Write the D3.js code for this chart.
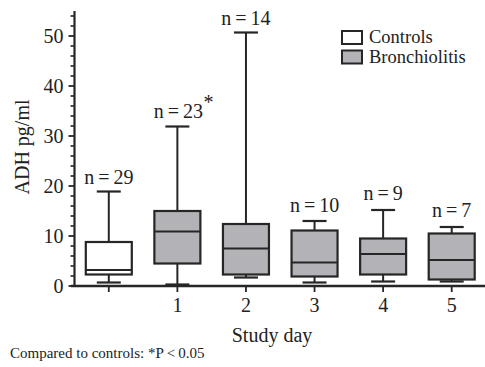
<!DOCTYPE html>
<html>
<head>
<meta charset="utf-8">
<script src="https://cdn.jsdelivr.net/npm/d3@7"></script>
<style>
  html, body { margin: 0; padding: 0; background: #fff; }
</style>
</head>
<body>
<svg id="chart" width="485" height="367"></svg>
<script>
// Study groups along the x axis (controls have no day label)
const categories = ["Controls", "1", "2", "3", "4", "5"];
const tickLabels = ["", "1", "2", "3", "4", "5"];
const groups = ["Controls", "Bronchiolitis", "Bronchiolitis", "Bronchiolitis", "Bronchiolitis", "Bronchiolitis"];
// Box-plot summaries, ADH in pg/ml
const whiskerLow  = [0.7, 0.3, 1.7, 0.7, 0.9, 0.9];
const q1          = [2.3, 4.5, 2.3, 1.9, 2.3, 1.3];
const median      = [3.2, 10.9, 7.5, 4.7, 6.4, 5.2];
const q3          = [8.8, 15.0, 12.4, 11.1, 9.5, 10.5];
const whiskerHigh = [18.9, 31.9, 50.7, 13.0, 15.2, 11.8];
const sampleSizes = [29, 23, 14, 10, 9, 7];
const significant = [false, true, false, false, false, false];
const yMajorTicks = [0, 10, 20, 30, 40, 50];
const legendItems = ["Controls", "Bronchiolitis"];

const ink = "#262626";
const textInk = "#222";
const serif = "'Liberation Serif', 'Times New Roman', Times, serif";
const fills = { "Controls": "#ffffff", "Bronchiolitis": "#b3b3b7" };

const svg = d3.select("#chart");

const x = d3.scaleBand().domain(categories).range([74.5, 486]).paddingInner(0).paddingOuter(0);
const y = d3.scaleLinear().domain([0, 55]).range([286, 11]);
const boxW = 46, capW = 24;

function label(sel, size) {
  return sel.attr("font-family", serif).attr("font-size", size).attr("fill", textInk);
}

// Y axis: major ticks every 10, minor every 2
const yMinor = d3.range(0, 55, 2).filter(v => v % 10 !== 0);
const yAxisG = svg.append("g").attr("transform", "translate(74.5,0)");
yAxisG.append("line").attr("x1", 0).attr("x2", 0).attr("y1", y(0)).attr("y2", y(55))
  .attr("stroke", ink).attr("stroke-width", 2.2);
yAxisG.selectAll("line.minor").data(yMinor).join("line").attr("class", "minor")
  .attr("x1", -4).attr("x2", 0).attr("y1", d => y(d)).attr("y2", d => y(d))
  .attr("stroke", ink).attr("stroke-width", 1.6);
yAxisG.selectAll("line.major").data(yMajorTicks).join("line").attr("class", "major")
  .attr("x1", -6).attr("x2", 0).attr("y1", d => y(d)).attr("y2", d => y(d))
  .attr("stroke", ink).attr("stroke-width", 1.8);
label(yAxisG.selectAll("text").data(yMajorTicks).join("text"), 20)
  .attr("x", -11).attr("y", d => y(d)).attr("dy", "0.33em")
  .attr("text-anchor", "end").text(d => d);

// X axis
const xAxis = d3.axisBottom(x).tickSize(6).tickSizeOuter(0).tickFormat((d, i) => tickLabels[i]);
const xAxisG = svg.append("g").attr("transform", `translate(0,${y(0)})`).call(xAxis)
  .attr("font-family", serif).attr("font-size", 20);
xAxisG.select(".domain").remove();
xAxisG.append("line").attr("x1", 71).attr("x2", 485).attr("y1", 0).attr("y2", 0)
  .attr("stroke", ink).attr("stroke-width", 2.4);
xAxisG.selectAll(".tick line").attr("stroke", ink).attr("stroke-width", 1.8);
label(xAxisG.selectAll(".tick text"), 20).attr("y", 25.7).attr("dy", 0);

// Boxes
const boxes = svg.append("g").selectAll("g").data(categories).join("g")
  .attr("transform", d => `translate(${x(d) + x.bandwidth() / 2},0)`);

boxes.append("line")
  .attr("x1", 0).attr("x2", 0)
  .attr("y1", (d, i) => y(whiskerHigh[i])).attr("y2", (d, i) => y(q3[i]))
  .attr("stroke", ink).attr("stroke-width", 2);
boxes.append("line")
  .attr("x1", 0).attr("x2", 0)
  .attr("y1", (d, i) => y(whiskerLow[i])).attr("y2", (d, i) => y(q1[i]))
  .attr("stroke", ink).attr("stroke-width", 2);
boxes.append("line")
  .attr("x1", -capW / 2).attr("x2", capW / 2)
  .attr("y1", (d, i) => y(whiskerHigh[i])).attr("y2", (d, i) => y(whiskerHigh[i]))
  .attr("stroke", ink).attr("stroke-width", 2.2);
boxes.append("line")
  .attr("x1", -capW / 2).attr("x2", capW / 2)
  .attr("y1", (d, i) => y(whiskerLow[i])).attr("y2", (d, i) => y(whiskerLow[i]))
  .attr("stroke", ink).attr("stroke-width", 2.2);
boxes.append("rect")
  .attr("x", -boxW / 2).attr("width", boxW)
  .attr("y", (d, i) => y(q3[i])).attr("height", (d, i) => y(q1[i]) - y(q3[i]))
  .attr("fill", (d, i) => fills[groups[i]])
  .attr("stroke", ink).attr("stroke-width", 2.2);
boxes.append("line")
  .attr("x1", -boxW / 2).attr("x2", boxW / 2)
  .attr("y1", (d, i) => y(median[i])).attr("y2", (d, i) => y(median[i]))
  .attr("stroke", ink).attr("stroke-width", 2.2);

// Sample size labels above each whisker
const nLabelOffset = [8, 9, 8, 9, 10, 10];
label(boxes.append("text"), 20)
  .attr("x", (d, i) => i === 1 ? 1 : 0)
  .attr("y", (d, i) => y(whiskerHigh[i]) - nLabelOffset[i])
  .attr("text-anchor", "middle")
  .text((d, i) => `n\u2009=\u2009${sampleSizes[i]}`);
label(boxes.filter((d, i) => significant[i]).append("text"), 20)
  .attr("x", 26).attr("y", y(whiskerHigh[1]) - 18)
  .text("*");

// Axis titles
label(svg.append("text"), 20).attr("transform", "translate(29,147) rotate(-90)")
  .attr("text-anchor", "middle").text("ADH pg/ml");
label(svg.append("text"), 20).attr("x", 272).attr("y", 341.5)
  .attr("text-anchor", "middle").text("Study day");

// Footnote
label(svg.append("text"), 15).attr("x", 10).attr("y", 358)
  .text("Compared to controls: *P\u2009<\u20090.05");

// Legend
const legend = svg.append("g").selectAll("g").data(legendItems).join("g")
  .attr("transform", (d, i) => `translate(342,${31 + i * 19.5})`);
legend.append("rect").attr("width", 20).attr("height", 13)
  .attr("fill", d => fills[d]).attr("stroke", ink).attr("stroke-width", 2);
label(legend.append("text"), 18.5).attr("x", 27).attr("y", 12).text(d => d);
</script>
</body>
</html>
